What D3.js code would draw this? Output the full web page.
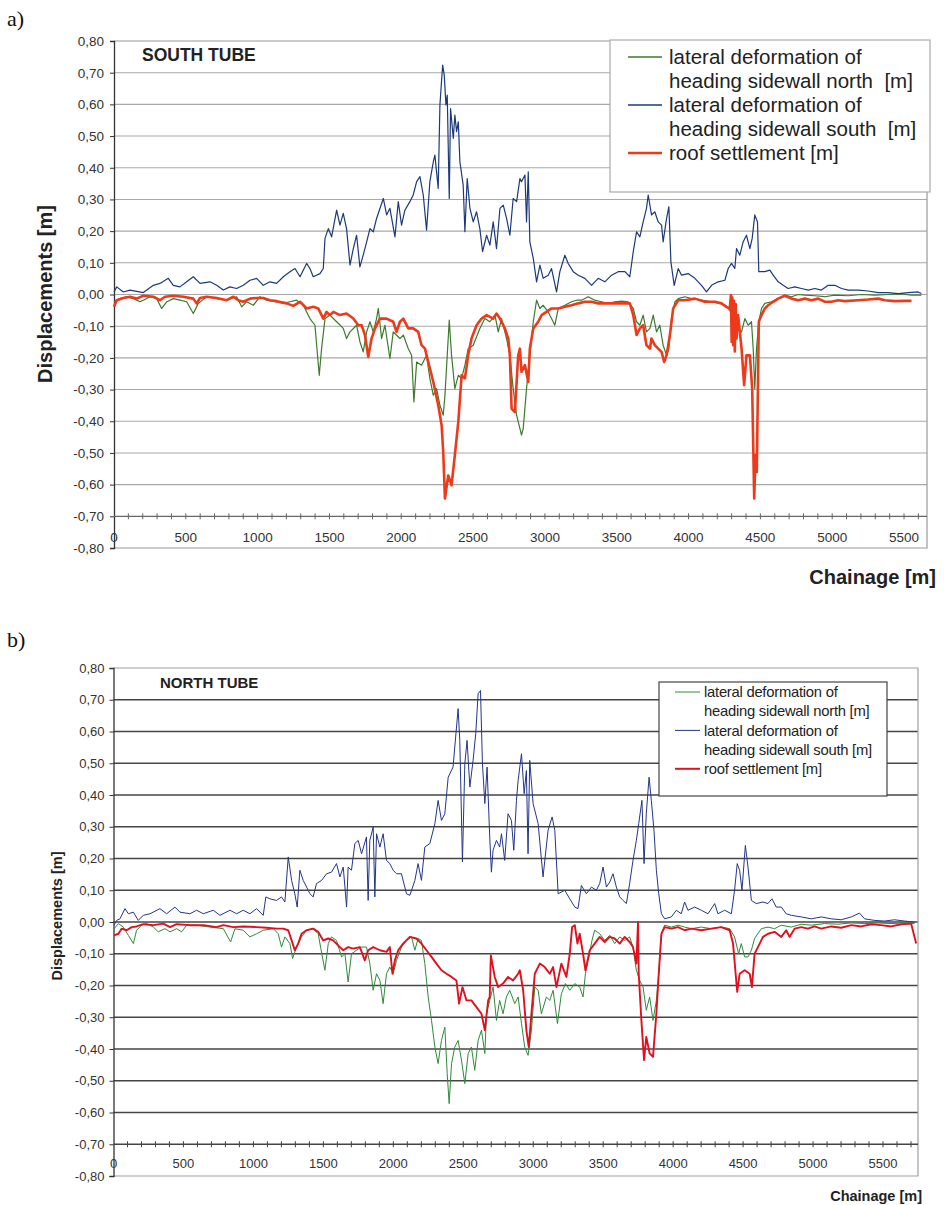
<!DOCTYPE html>
<html><head><meta charset="utf-8">
<script src="https://cdn.jsdelivr.net/npm/d3@7"></script>
<style>
html,body{margin:0;padding:0;background:#fff;}
svg{display:block;font-family:"Liberation Sans",Arial,sans-serif;}
text{white-space:pre;}
</style></head>
<body>
<svg id="chart" width="944" height="1205"></svg>
<script>
// ---------------- DATA ----------------
const yTicks = [0.8,0.7,0.6,0.5,0.4,0.3,0.2,0.1,0,-0.1,-0.2,-0.3,-0.4,-0.5,-0.6,-0.7,-0.8];
const xTickLabels = [0,500,1000,1500,2000,2500,3000,3500,4000,4500,5000,5500];
const legendLabels = [["lateral deformation of","heading sidewall north  [m]"],["lateral deformation of","heading sidewall south  [m]"],["roof settlement [m]"]];
const legendLabelsB = [["lateral deformation of","heading sidewall north [m]"],["lateral deformation of","heading sidewall south [m]"],["roof settlement [m]"]];

// South tube (a) — [chainage m, displacement m]
const southSidewallNorth = [[0,-0.023],[42,-0.013],[88,-0.007],[135,-0.013],[181,-0.023],[204,-0.018],[251,-0.007],[297,-0.013],[332,-0.044],[367,-0.023],[413,-0.013],[459,-0.018],[506,-0.023],[552,-0.06],[587,-0.028],[645,-0.007],[715,-0.013],[784,-0.018],[854,-0.007],[889,-0.039],[923,-0.023],[970,-0.034],[1016,-0.007],[1063,-0.018],[1132,-0.023],[1179,-0.028],[1225,-0.023],[1271,-0.018],[1318,-0.034],[1364,-0.076],[1399,-0.097],[1429,-0.255],[1445,-0.171],[1469,-0.076],[1503,-0.065],[1550,-0.086],[1596,-0.107],[1619,-0.139],[1643,-0.118],[1689,-0.097],[1712,-0.149],[1735,-0.181],[1759,-0.118],[1782,-0.086],[1805,-0.118],[1828,-0.076],[1840,-0.044],[1863,-0.139],[1886,-0.097],[1921,-0.202],[1944,-0.118],[1991,-0.139],[2014,-0.128],[2049,-0.171],[2072,-0.192],[2088,-0.339],[2107,-0.213],[2141,-0.223],[2176,-0.192],[2199,-0.265],[2223,-0.318],[2246,-0.297],[2269,-0.349],[2292,-0.381],[2304,-0.318],[2320,-0.192],[2334,-0.081],[2350,-0.192],[2373,-0.297],[2397,-0.255],[2420,-0.265],[2443,-0.223],[2466,-0.171],[2501,-0.16],[2547,-0.107],[2582,-0.076],[2617,-0.086],[2652,-0.065],[2675,-0.118],[2698,-0.076],[2733,-0.139],[2756,-0.192],[2779,-0.297],[2803,-0.381],[2826,-0.423],[2837,-0.444],[2849,-0.423],[2872,-0.297],[2895,-0.192],[2919,-0.086],[2942,-0.018],[2965,-0.044],[2988,-0.034],[3023,-0.055],[3046,-0.076],[3069,-0.097],[3093,-0.044],[3139,-0.034],[3185,-0.023],[3220,-0.018],[3255,-0.018],[3301,-0.007],[3348,-0.018],[3394,-0.023],[3441,-0.028],[3487,-0.023],[3533,-0.021],[3580,-0.023],[3615,-0.044],[3638,-0.086],[3661,-0.097],[3684,-0.065],[3707,-0.118],[3731,-0.107],[3754,-0.065],[3777,-0.118],[3800,-0.097],[3823,-0.16],[3847,-0.192],[3863,-0.171],[3881,-0.076],[3905,-0.023],[3928,-0.013],[3974,-0.007],[4021,-0.013],[4090,-0.018],[4160,-0.023],[4229,-0.028],[4276,-0.044],[4311,-0.065],[4334,-0.107],[4369,-0.118],[4392,-0.076],[4415,-0.097],[4438,-0.086],[4450,-0.171],[4461,-0.297],[4473,-0.171],[4489,-0.086],[4508,-0.044],[4531,-0.028],[4577,-0.023],[4624,-0.013],[4670,-0.002],[4717,-0.007],[4763,0],[4809,-0.002],[4879,-0.004],[4949,-0.007],[5018,-0.002],[5111,-0.004],[5204,0],[5297,-0.002],[5389,0],[5482,0.002],[5552,-0.002],[5621,-0.002]];
const southSidewallSouth = [[0,0.008],[19,0.024],[65,0.008],[111,0.014],[204,0.006],[274,0.029],[320,0.035],[378,0.051],[413,0.029],[459,0.024],[506,0.04],[552,0.056],[599,0.035],[668,0.04],[715,0.029],[761,0.014],[807,0.024],[854,0.019],[900,0.029],[947,0.045],[993,0.051],[1039,0.029],[1086,0.04],[1132,0.035],[1179,0.056],[1225,0.072],[1260,0.082],[1295,0.056],[1341,0.098],[1364,0.082],[1387,0.056],[1434,0.066],[1457,0.082],[1469,0.177],[1492,0.208],[1515,0.182],[1550,0.266],[1573,0.219],[1596,0.256],[1619,0.208],[1643,0.093],[1666,0.145],[1689,0.187],[1712,0.087],[1735,0.124],[1759,0.166],[1782,0.208],[1805,0.198],[1828,0.24],[1875,0.303],[1898,0.251],[1921,0.272],[1956,0.182],[1979,0.293],[2002,0.219],[2025,0.266],[2060,0.293],[2083,0.314],[2107,0.356],[2130,0.372],[2153,0.314],[2176,0.203],[2199,0.356],[2223,0.419],[2234,0.44],[2257,0.335],[2269,0.598],[2288,0.724],[2299,0.693],[2311,0.598],[2320,0.629],[2334,0.303],[2343,0.587],[2362,0.493],[2373,0.566],[2385,0.514],[2397,0.545],[2408,0.419],[2431,0.345],[2443,0.198],[2459,0.366],[2478,0.272],[2501,0.229],[2524,0.261],[2547,0.208],[2566,0.135],[2594,0.187],[2617,0.156],[2640,0.229],[2663,0.145],[2687,0.272],[2710,0.282],[2733,0.24],[2756,0.187],[2779,0.303],[2803,0.293],[2826,0.366],[2837,0.356],[2861,0.377],[2872,0.229],[2884,0.387],[2895,0.166],[2919,0.114],[2942,0.04],[2965,0.093],[2988,0.051],[3023,0.061],[3046,0.082],[3081,0.008],[3104,0.072],[3139,0.124],[3162,0.098],[3197,0.072],[3232,0.061],[3278,0.051],[3325,0.029],[3371,0.051],[3417,0.04],[3464,0.061],[3510,0.072],[3557,0.072],[3591,0.056],[3615,0.135],[3638,0.198],[3661,0.182],[3684,0.229],[3707,0.272],[3719,0.314],[3742,0.251],[3765,0.261],[3789,0.229],[3812,0.219],[3823,0.166],[3847,0.24],[3863,0.277],[3877,0.103],[3900,0.029],[3928,0.082],[3951,0.061],[3997,0.066],[4044,0.051],[4090,0.029],[4125,0.008],[4160,0.029],[4206,0.04],[4253,0.045],[4276,0.082],[4299,0.098],[4322,0.082],[4334,0.145],[4357,0.124],[4380,0.166],[4403,0.187],[4427,0.145],[4443,0.177],[4461,0.251],[4480,0.229],[4489,0.072],[4531,0.072],[4566,0.077],[4589,0.061],[4624,0.04],[4659,0.029],[4693,0.019],[4740,0.024],[4786,0.019],[4833,0.014],[4879,0.019],[4925,0.014],[4972,0.029],[5018,0.029],[5065,0.019],[5111,0.014],[5181,0.014],[5250,0.011],[5320,0.006],[5389,0.006],[5459,0.003],[5529,0.006],[5598,0.008],[5621,0.003]];
const southRoof = [[0,-0.039],[19,-0.018],[65,-0.011],[111,-0.007],[158,-0.013],[204,-0.004],[274,-0.007],[320,-0.018],[355,-0.007],[413,-0.004],[483,-0.007],[552,-0.013],[575,-0.028],[599,-0.011],[645,-0.007],[715,-0.011],[784,-0.018],[831,-0.007],[865,-0.018],[900,-0.023],[947,-0.013],[993,-0.011],[1039,-0.011],[1086,-0.018],[1132,-0.021],[1202,-0.028],[1248,-0.036],[1295,-0.023],[1341,-0.044],[1387,-0.039],[1422,-0.044],[1457,-0.076],[1480,-0.055],[1503,-0.065],[1527,-0.055],[1573,-0.065],[1619,-0.06],[1666,-0.076],[1701,-0.097],[1724,-0.097],[1747,-0.128],[1770,-0.197],[1793,-0.139],[1817,-0.107],[1851,-0.076],[1898,-0.076],[1944,-0.086],[1967,-0.118],[1991,-0.086],[2014,-0.076],[2049,-0.107],[2083,-0.107],[2118,-0.118],[2141,-0.16],[2165,-0.171],[2188,-0.213],[2223,-0.276],[2257,-0.349],[2281,-0.413],[2292,-0.497],[2304,-0.644],[2327,-0.571],[2350,-0.602],[2373,-0.507],[2397,-0.402],[2420,-0.255],[2443,-0.265],[2466,-0.192],[2489,-0.139],[2524,-0.097],[2559,-0.076],[2594,-0.065],[2640,-0.076],[2663,-0.06],[2687,-0.076],[2721,-0.107],[2745,-0.139],[2756,-0.192],[2768,-0.36],[2791,-0.371],[2814,-0.192],[2826,-0.171],[2837,-0.244],[2861,-0.223],[2884,-0.276],[2895,-0.171],[2919,-0.107],[2953,-0.086],[2977,-0.065],[3011,-0.055],[3046,-0.044],[3093,-0.044],[3139,-0.039],[3185,-0.034],[3232,-0.028],[3278,-0.023],[3325,-0.023],[3371,-0.028],[3464,-0.028],[3591,-0.028],[3615,-0.065],[3638,-0.128],[3661,-0.107],[3684,-0.097],[3707,-0.16],[3731,-0.171],[3742,-0.139],[3765,-0.16],[3789,-0.171],[3812,-0.181],[3830,-0.213],[3847,-0.192],[3870,-0.128],[3893,-0.044],[3928,-0.018],[3974,-0.018],[4044,-0.013],[4113,-0.023],[4183,-0.023],[4229,-0.028],[4264,-0.039],[4287,-0.044],[4295,-0.002],[4300,-0.15],[4305,-0.01],[4311,-0.16],[4316,-0.02],[4322,-0.18],[4328,-0.03],[4334,-0.139],[4345,-0.065],[4369,-0.171],[4387,-0.286],[4403,-0.192],[4427,-0.192],[4443,-0.297],[4457,-0.644],[4466,-0.507],[4475,-0.56],[4489,-0.086],[4508,-0.065],[4531,-0.044],[4554,-0.034],[4589,-0.023],[4624,-0.013],[4670,-0.004],[4717,-0.013],[4763,-0.018],[4809,-0.013],[4856,-0.018],[4902,-0.013],[4949,-0.023],[4995,-0.023],[5041,-0.018],[5088,-0.021],[5181,-0.018],[5250,-0.016],[5320,-0.013],[5366,-0.018],[5436,-0.021],[5505,-0.02],[5552,-0.02]];

// North tube (b)
const northSidewallNorth = [[4,-0.021],[35,-0.005],[70,-0.016],[106,-0.042],[142,-0.068],[165,-0.026],[201,-0.01],[237,-0.005],[285,-0.016],[320,-0.031],[368,-0.021],[404,-0.031],[451,-0.021],[487,-0.031],[523,-0.01],[594,-0.01],[689,-0.016],[785,-0.021],[837,-0.063],[868,-0.021],[927,-0.026],[975,-0.047],[1023,-0.037],[1070,-0.026],[1142,-0.021],[1177,-0.037],[1201,-0.079],[1225,-0.047],[1261,-0.068],[1280,-0.115],[1308,-0.079],[1344,-0.047],[1380,-0.026],[1427,-0.021],[1463,-0.037],[1480,-0.079],[1511,-0.152],[1535,-0.068],[1558,-0.047],[1594,-0.058],[1630,-0.11],[1654,-0.1],[1677,-0.189],[1701,-0.1],[1737,-0.089],[1773,-0.079],[1808,-0.079],[1832,-0.131],[1856,-0.215],[1880,-0.163],[1904,-0.184],[1927,-0.257],[1951,-0.163],[1975,-0.142],[1999,-0.163],[2023,-0.121],[2058,-0.079],[2094,-0.058],[2130,-0.047],[2154,-0.089],[2177,-0.052],[2201,-0.058],[2225,-0.131],[2249,-0.236],[2273,-0.31],[2297,-0.394],[2320,-0.446],[2344,-0.373],[2368,-0.331],[2385,-0.477],[2399,-0.572],[2416,-0.446],[2439,-0.394],[2463,-0.373],[2487,-0.435],[2511,-0.509],[2535,-0.414],[2558,-0.394],[2582,-0.467],[2606,-0.373],[2630,-0.341],[2654,-0.414],[2666,-0.289],[2689,-0.247],[2713,-0.205],[2737,-0.31],[2760,-0.247],[2784,-0.289],[2808,-0.236],[2832,-0.215],[2868,-0.257],[2892,-0.236],[2916,-0.32],[2939,-0.394],[2963,-0.42],[2987,-0.341],[3011,-0.205],[3035,-0.215],[3058,-0.289],[3094,-0.236],[3118,-0.247],[3142,-0.215],[3173,-0.32],[3201,-0.226],[3230,-0.194],[3261,-0.215],[3297,-0.194],[3332,-0.205],[3356,-0.236],[3373,-0.163],[3397,-0.11],[3420,-0.058],[3439,-0.026],[3475,-0.037],[3511,-0.058],[3547,-0.042],[3582,-0.068],[3618,-0.047],[3654,-0.058],[3689,-0.047],[3713,-0.079],[3737,-0.152],[3761,-0.184],[3785,-0.205],[3808,-0.278],[3832,-0.236],[3856,-0.31],[3880,-0.247],[3897,-0.163],[3916,-0.037],[3939,-0.01],[3987,-0.016],[4035,-0.01],[4082,-0.016],[4130,-0.021],[4201,-0.016],[4273,-0.021],[4344,-0.016],[4404,-0.021],[4439,-0.047],[4468,-0.1],[4487,-0.068],[4511,-0.11],[4535,-0.11],[4559,-0.089],[4582,-0.052],[4630,-0.021],[4678,-0.016],[4725,-0.021],[4773,-0.01],[4844,-0.016],[4916,-0.007],[4987,-0.01],[5082,-0.005],[5178,-0.007],[5273,-0.003],[5368,-0.005],[5463,-0.003],[5558,-0.005],[5654,-0.003],[5725,-0.005]];
const northSidewallSouth = [[4,-0.01],[23,0.005],[46,0.01],[82,0.042],[106,0.026],[142,0.031],[177,0.005],[213,0.021],[261,0.026],[332,0.042],[380,0.026],[439,0.047],[475,0.031],[546,0.026],[594,0.037],[642,0.026],[713,0.037],[761,0.021],[832,0.037],[880,0.026],[927,0.037],[975,0.026],[1023,0.042],[1070,0.021],[1089,0.079],[1118,0.073],[1165,0.068],[1201,0.079],[1225,0.063],[1249,0.205],[1273,0.131],[1296,0.089],[1313,0.047],[1332,0.163],[1356,0.131],[1380,0.11],[1404,0.089],[1427,0.079],[1451,0.121],[1487,0.131],[1523,0.152],[1558,0.157],[1594,0.184],[1618,0.142],[1642,0.173],[1666,0.047],[1677,0.173],[1701,0.163],[1725,0.247],[1749,0.257],[1773,0.215],[1808,0.268],[1820,0.068],[1832,0.257],[1856,0.299],[1868,0.079],[1880,0.278],[1904,0.236],[1927,0.278],[1951,0.194],[1975,0.184],[1999,0.163],[2023,0.152],[2058,0.152],[2094,0.089],[2118,0.084],[2154,0.131],[2177,0.184],[2201,0.131],[2225,0.236],[2261,0.247],[2297,0.31],[2320,0.383],[2344,0.32],[2368,0.341],[2392,0.456],[2427,0.488],[2463,0.672],[2475,0.572],[2494,0.189],[2511,0.498],[2527,0.572],[2547,0.425],[2570,0.509],[2589,0.593],[2606,0.719],[2623,0.729],[2637,0.498],[2654,0.373],[2670,0.488],[2689,0.268],[2701,0.157],[2713,0.226],[2737,0.257],[2760,0.236],[2773,0.278],[2796,0.194],[2820,0.341],[2844,0.32],[2861,0.226],[2880,0.383],[2892,0.446],[2916,0.53],[2935,0.404],[2951,0.477],[2963,0.215],[2975,0.509],[2999,0.373],[3035,0.31],[3070,0.142],[3106,0.289],[3135,0.331],[3154,0.289],[3178,0.089],[3225,0.1],[3261,0.073],[3297,0.047],[3320,0.042],[3344,0.115],[3380,0.089],[3416,0.11],[3451,0.1],[3475,0.121],[3499,0.173],[3523,0.11],[3547,0.126],[3570,0.152],[3594,0.11],[3618,0.079],[3642,0.068],[3666,0.058],[3689,0.121],[3713,0.194],[3737,0.257],[3754,0.31],[3777,0.383],[3792,0.184],[3808,0.341],[3828,0.456],[3844,0.383],[3863,0.289],[3880,0.163],[3897,0.089],[3916,0.026],[3939,0.01],[3987,0.016],[4023,0.037],[4058,0.026],[4082,0.063],[4106,0.037],[4154,0.047],[4201,0.037],[4249,0.026],[4297,0.058],[4320,0.026],[4368,0.037],[4416,0.026],[4439,0.1],[4458,0.184],[4475,0.163],[4492,0.1],[4516,0.241],[4535,0.173],[4559,0.068],[4594,0.058],[4642,0.063],[4678,0.058],[4706,0.073],[4737,0.047],[4773,0.047],[4808,0.026],[4844,0.021],[4916,0.016],[4987,0.01],[5058,0.016],[5130,0.01],[5201,0.007],[5273,0.016],[5332,0.028],[5368,0.01],[5440,0.005],[5511,0.003],[5582,0.007],[5654,0.003],[5725,0]];
const northRoof = [[4,-0.042],[35,-0.037],[58,-0.021],[94,-0.026],[130,-0.016],[165,-0.014],[213,-0.007],[285,-0.01],[356,-0.005],[404,-0.016],[451,-0.007],[546,-0.01],[642,-0.01],[737,-0.016],[785,-0.01],[856,-0.016],[927,-0.014],[1023,-0.016],[1094,-0.018],[1165,-0.021],[1213,-0.021],[1249,-0.026],[1273,-0.058],[1296,-0.089],[1320,-0.068],[1344,-0.037],[1380,-0.026],[1427,-0.021],[1463,-0.031],[1499,-0.058],[1535,-0.052],[1570,-0.058],[1618,-0.079],[1642,-0.089],[1677,-0.079],[1713,-0.084],[1761,-0.079],[1796,-0.121],[1820,-0.089],[1856,-0.079],[1904,-0.089],[1951,-0.094],[1975,-0.079],[1994,-0.163],[2011,-0.121],[2035,-0.089],[2070,-0.068],[2118,-0.047],[2165,-0.052],[2201,-0.068],[2237,-0.089],[2273,-0.11],[2308,-0.131],[2344,-0.152],[2380,-0.163],[2416,-0.173],[2451,-0.184],[2470,-0.257],[2494,-0.205],[2523,-0.247],[2558,-0.247],[2594,-0.268],[2630,-0.289],[2654,-0.341],[2678,-0.247],[2689,-0.236],[2697,-0.105],[2725,-0.173],[2749,-0.205],[2784,-0.194],[2820,-0.173],[2856,-0.184],[2892,-0.163],[2904,-0.152],[2928,-0.215],[2951,-0.341],[2968,-0.394],[2987,-0.289],[3011,-0.163],[3047,-0.131],[3082,-0.142],[3118,-0.163],[3142,-0.142],[3166,-0.205],[3201,-0.131],[3237,-0.173],[3261,-0.1],[3278,-0.016],[3297,-0.01],[3316,-0.068],[3332,-0.037],[3356,-0.1],[3373,-0.152],[3404,-0.089],[3439,-0.068],[3475,-0.047],[3511,-0.063],[3547,-0.047],[3582,-0.052],[3618,-0.068],[3654,-0.047],[3689,-0.063],[3713,-0.079],[3737,-0.131],[3749,0],[3754,-0.163],[3773,-0.31],[3792,-0.435],[3808,-0.362],[3832,-0.414],[3856,-0.425],[3880,-0.289],[3897,-0.163],[3916,-0.037],[3939,-0.016],[3987,-0.021],[4035,-0.016],[4082,-0.026],[4130,-0.021],[4201,-0.026],[4273,-0.021],[4344,-0.016],[4404,-0.026],[4428,-0.068],[4458,-0.22],[4475,-0.163],[4511,-0.152],[4547,-0.163],[4563,-0.205],[4582,-0.1],[4606,-0.079],[4642,-0.047],[4678,-0.037],[4725,-0.031],[4773,-0.047],[4808,-0.026],[4832,-0.047],[4868,-0.021],[4916,-0.016],[4963,-0.021],[5011,-0.014],[5058,-0.021],[5130,-0.014],[5201,-0.018],[5273,-0.01],[5344,-0.014],[5416,-0.007],[5487,-0.01],[5558,-0.014],[5630,-0.007],[5701,-0.005],[5725,-0.047],[5737,-0.068]];

// ---------------- DRAW ----------------
const svg = d3.select("#chart");
const loc = d3.formatLocale({decimal:",",thousands:".",grouping:[3],currency:["",""],minus:"-"});
const fmtY = loc.format(".2f");

function panel(o){
  const g = svg.append("g");
  const x = d3.scaleLinear().domain([0,o.xMax]).range([o.left,o.right]);
  const y = d3.scaleLinear().domain([-0.8,0.8]).range([o.bottom,o.top]);

  // grid lines
  g.selectAll("line.grid").data(yTicks.filter(v=>v<0.75&&v>-0.65)).join("line")
    .attr("x1",o.left).attr("x2",o.right).attr("y1",d=>y(d)).attr("y2",d=>y(d))
    .attr("stroke",o.gridColor).attr("stroke-width",o.gridWidth);
  // frame: top, right, bottom
  g.append("path").attr("d",`M${o.left},${y(0.8)}H${o.right}V${y(-0.8)}H${o.left}`)
    .attr("fill","none").attr("stroke",o.frameColor).attr("stroke-width",1.2);

  // y axis
  const ya = d3.axisLeft(y).tickValues(yTicks).tickFormat(fmtY).tickSize(4).tickPadding(o.yPad);
  const yg = g.append("g").attr("transform",`translate(${o.left},0)`).call(ya);
  yg.select(".domain").attr("stroke","#333").attr("stroke-width",1.3);
  yg.selectAll(".tick line").attr("stroke","#333");
  yg.selectAll("text").attr("font-size",o.tickFont).attr("fill","#333")
    .attr("font-family","'Liberation Sans',Arial,sans-serif");

  // x axis at -0.70 with crossing minor ticks
  const y7 = y(-0.7);
  g.append("line").attr("x1",o.left).attr("x2",o.right).attr("y1",y7).attr("y2",y7)
    .attr("stroke",o.axisColor).attr("stroke-width",1.3);
  g.selectAll("line.mt").data(d3.range(100,o.xMax,100)).join("line")
    .attr("x1",d=>x(d)).attr("x2",d=>x(d)).attr("y1",y7-3).attr("y2",y7+3)
    .attr("stroke",o.axisColor).attr("stroke-width",1);
  g.selectAll("text.xl").data(xTickLabels).join("text")
    .attr("x",d=>x(d)).attr("y",o.xLabelY).attr("text-anchor","middle")
    .attr("font-size",o.tickFont).attr("fill","#333").text(d=>d);

  // series
  const line = d3.line().x(d=>x(d[0])).y(d=>y(d[1]));
  g.append("path").datum(o.north).attr("d",line).attr("fill","none")
    .attr("stroke",o.cNorth).attr("stroke-width",o.wThin).attr("stroke-linejoin","round");
  g.append("path").datum(o.south).attr("d",line).attr("fill","none")
    .attr("stroke",o.cSouth).attr("stroke-width",o.wThin).attr("stroke-linejoin","round");
  g.append("path").datum(o.roof).attr("d",line).attr("fill","none")
    .attr("stroke",o.cRoof).attr("stroke-width",o.wRoof).attr("stroke-linejoin","round");

  // titles
  g.append("text").attr("x",o.tubeX).attr("y",o.tubeY).attr("font-size",o.tubeFont)
    .attr("font-weight","bold").attr("fill","#222").text(o.tube);
  g.append("text").attr("transform",`translate(${o.yTitleX},${o.yTitleY}) rotate(-90)`)
    .attr("text-anchor","middle").attr("font-size",o.yTitleFont).attr("font-weight","bold")
    .attr("fill","#222").text("Displacements [m]");
  g.append("text").attr("x",o.xTitleX).attr("y",o.xTitleY).attr("text-anchor","end")
    .attr("font-size",o.xTitleFont).attr("font-weight","bold").attr("fill","#222").text("Chainage [m]");
  g.append("text").attr("x",7).attr("y",o.tagY).attr("font-size",22)
    .attr("font-family","'Liberation Serif','Times New Roman',serif").attr("fill","#111").text(o.tag);

  // legend
  const L = o.legend;
  g.append("rect").attr("x",L.x).attr("y",L.y).attr("width",L.w).attr("height",L.h)
    .attr("fill","#fff").attr("stroke",L.stroke).attr("stroke-width",1.2);
  const cols=[o.cNorth,o.cSouth,o.cRoof], ws=[L.lw,L.lw,L.rw];
  let row=0;
  o.labels.forEach((lab,i)=>{
    const ly = L.y + L.first + row*L.step;
    g.append("line").attr("x1",L.x+L.lx1).attr("x2",L.x+L.lx2).attr("y1",ly).attr("y2",ly)
      .attr("stroke",cols[i]).attr("stroke-width",ws[i]);
    lab.forEach((t,j)=>{
      g.append("text").attr("x",L.x+L.tx).attr("y",L.y+L.first+(row+j)*L.step).attr("dy","0.35em")
        .attr("font-size",L.font).attr("letter-spacing",L.ls).attr("fill","#222").text(t);
    });
    row += lab.length;
  });
}

panel({left:114,right:927,top:41,bottom:548,xMax:5660,
  gridColor:"#a8a8a8",gridWidth:1.1,frameColor:"#9a9a9a",axisColor:"#666",
  tickFont:13.5,yPad:6,xLabelY:542,
  north:southSidewallNorth,south:southSidewallSouth,roof:southRoof,
  cNorth:"#3d7a2e",cSouth:"#1c3a7a",cRoof:"#ec3a1a",wThin:1.2,wRoof:2.6,
  tube:"SOUTH TUBE",tubeX:142,tubeY:61,tubeFont:17.5,
  yTitleX:52,yTitleY:294,yTitleFont:20,xTitleX:936,xTitleY:584,xTitleFont:20,tag:"a)",tagY:26,
  labels:legendLabels,
  legend:{x:610,y:40,w:320,h:152,stroke:"#aaa",first:17,step:24,lx1:18,lx2:52,tx:59,font:20.5,ls:0,lw:1.3,rw:2.6}
});

panel({left:113.5,right:918,top:668,bottom:1176,xMax:5750,
  gridColor:"#454545",gridWidth:1.6,frameColor:"#a0a0a0",axisColor:"#444",
  tickFont:13,yPad:5,xLabelY:1168,
  north:northSidewallNorth,south:northSidewallSouth,roof:northRoof,
  cNorth:"#2f8a3a",cSouth:"#24358a",cRoof:"#e0101e",wThin:1,wRoof:1.9,
  tube:"NORTH TUBE",tubeX:160,tubeY:688,tubeFont:15,
  yTitleX:62,yTitleY:916,yTitleFont:14.5,xTitleX:922,xTitleY:1201,xTitleFont:14.5,tag:"b)",tagY:647,
  labels:legendLabelsB,
  legend:{x:659,y:682,w:228,h:114,stroke:"#444",first:10,step:19.2,lx1:16,lx2:41,tx:45,font:14.8,ls:-0.25,lw:1,rw:2}
});
</script>
</body></html>
